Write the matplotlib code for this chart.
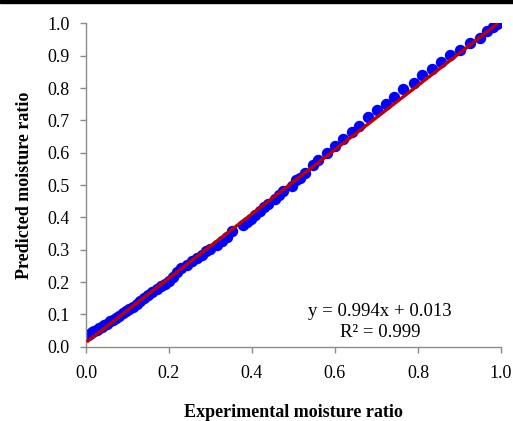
import matplotlib
matplotlib.use("Agg")
import matplotlib.pyplot as plt
from matplotlib.patches import Rectangle

experimental = [0.005, 0.010, 0.015, 0.020, 0.026, 0.032, 0.038, 0.044, 0.051, 0.058,
                0.065, 0.072, 0.080, 0.088, 0.096, 0.104, 0.113, 0.122, 0.131, 0.140,
                0.150, 0.160, 0.170, 0.180, 0.190, 0.200, 0.210, 0.220, 0.230, 0.243,
                0.255, 0.267, 0.280, 0.290, 0.299, 0.315, 0.327, 0.339, 0.351, 0.379,
                0.387, 0.397, 0.407, 0.419, 0.430, 0.439, 0.455, 0.465, 0.475, 0.4955,
                0.507, 0.516, 0.528, 0.548, 0.560, 0.580, 0.600, 0.620, 0.640, 0.659,
                0.680, 0.702, 0.722, 0.743, 0.765, 0.790, 0.810, 0.833, 0.855, 0.876,
                0.901, 0.925, 0.949, 0.966, 0.980, 0.990]
predicted = [0.036, 0.040, 0.044, 0.048, 0.053, 0.058, 0.062, 0.066, 0.071, 0.078,
             0.083, 0.089, 0.096, 0.103, 0.110, 0.117, 0.124, 0.133, 0.142, 0.152,
             0.160, 0.169, 0.178, 0.187, 0.195, 0.204, 0.216, 0.230, 0.243, 0.253,
             0.265, 0.274, 0.285, 0.296, 0.303, 0.315, 0.326, 0.338, 0.358, 0.376,
             0.386, 0.395, 0.406, 0.421, 0.432, 0.442, 0.458, 0.468, 0.480, 0.497,
             0.515, 0.522, 0.538, 0.561, 0.578, 0.599, 0.622, 0.642, 0.665, 0.684,
             0.709, 0.731, 0.750, 0.772, 0.796, 0.815, 0.840, 0.859, 0.881, 0.902,
             0.919, 0.938, 0.955, 0.975, 0.989, 0.998]
slope = 0.994
intercept = 0.013
ticks = [0.0, 0.1, 0.2, 0.3, 0.4, 0.5, 0.6, 0.7, 0.8, 0.9, 1.0]
xticks = [0.0, 0.2, 0.4, 0.6, 0.8, 1.0]

plt.rcParams['font.family'] = ['Liberation Serif', 'DejaVu Serif']

fig = plt.figure(figsize=(5.13, 4.21), dpi=100)
ax = fig.add_axes([0.1676, 0.1765, 0.809, 0.768])

ax.plot(experimental, predicted, 'o', color='#0000FF', ms=7.2, mec='#0000FF', zorder=2)
xmin, xmax = min(experimental), max(experimental)
ax.plot([xmin, xmax], [slope * xmin + intercept, slope * xmax + intercept],
        color='#C00000', lw=2.4, zorder=3)

ax.set_xlim(0, 1.0)
ax.set_ylim(0, 1.0)
ax.set_xticks(xticks)
ax.set_yticks(ticks)
ax.set_xticklabels([f"{t:.1f}" for t in xticks])
ax.set_yticklabels([f"{t:.1f}" for t in ticks])

for s in ['top', 'right']:
    ax.spines[s].set_visible(False)
for s in ['left', 'bottom']:
    ax.spines[s].set_color('#8C8C8C')
    ax.spines[s].set_linewidth(1.0)
ax.tick_params(direction='out', length=4, width=1, color='#8C8C8C',
               labelsize=13, labelcolor='black')
ax.tick_params(axis='y', pad=8)
ax.tick_params(axis='x', pad=9)

ax.set_xlabel('Experimental moisture ratio', fontsize=13, fontweight='bold', labelpad=16)
ax.set_ylabel('Predicted moisture ratio', fontsize=13, fontweight='bold', labelpad=10)

ax.text(0.708, 0.076, 'y = 0.994x + 0.013\nR\u00b2 = 0.999', ha='center', va='center',
        fontsize=13.5, linespacing=1.3)

fig.patches.append(Rectangle((0, 1 - 3 / 421), 1, 3 / 421, transform=fig.transFigure,
                             color='black', zorder=10))

fig.savefig('out.png', dpi=100)
